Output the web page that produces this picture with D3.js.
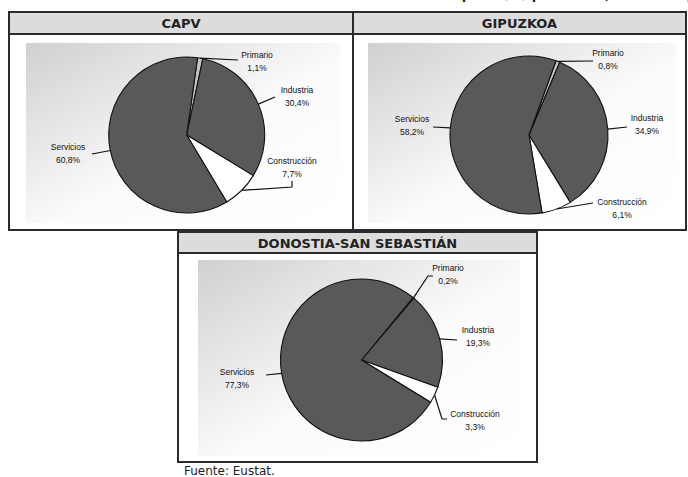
<!DOCTYPE html>
<html>
<head>
<meta charset="utf-8">
<script src="https://cdn.jsdelivr.net/npm/d3@7"></script>
<style>
  body { margin: 0; background: #fff; }
  svg { display: block; }
</style>
</head>
<body>
<script>
// Datos (% de ocupados por sector)
const sectores = ["Primario", "Industria", "Construcción", "Servicios"];
const territorios = ["CAPV", "GIPUZKOA", "DONOSTIA-SAN SEBASTIÁN"];
const capv = [1.1, 30.4, 7.7, 60.8];
const gipuzkoa = [0.8, 34.9, 6.1, 58.2];
const donostia = [0.2, 19.3, 3.3, 77.3];
const series = [capv, gipuzkoa, donostia];

const colores = d3.scaleOrdinal()
  .domain(sectores)
  .range(["#c4c4c4", "#595959", "#ffffff", "#595959"]);

// Cajas, tarta y etiquetas de cada gráfico
const paneles = [
  { x: 9, y: 12, w: 344, h: 218, hh: 22, plot: [26, 43, 314, 180], cx: 186.7, cy: 135, r: 78, start: 8,
    labels: [
      { x: 257, y: 58, pts: [[238, 60]] },
      { x: 297, y: 93, pts: [[275, 97]] },
      { x: 292, y: 164, pts: [[292, 187], [292, 181]] },
      { x: 68, y: 150, pts: [[92, 154]] }
    ] },
  { x: 353, y: 12, w: 333, h: 218, hh: 22, plot: [368, 43, 308, 180], cx: 529, cy: 135, r: 79, start: 20,
    labels: [
      { x: 608, y: 56, pts: [[593, 61]] },
      { x: 647, y: 121, pts: [[627, 127]] },
      { x: 622, y: 205, pts: [[593, 203]] },
      { x: 412, y: 122, pts: [[433, 127]] }
    ] },
  { x: 178, y: 232, w: 359, h: 230, hh: 21, plot: [198, 260, 322, 196], cx: 361.5, cy: 360, r: 81, start: 39.5,
    labels: [
      { x: 448, y: 271, pts: [[428, 276], [433, 276]] },
      { x: 478, y: 333, pts: [[457, 340]] },
      { x: 475, y: 417, pts: [[442, 419], [447, 419]] },
      { x: 237, y: 375, pts: [[266, 375]] }
    ] }
];

const svg = d3.select("body").append("svg")
  .attr("width", 688)
  .attr("height", 477);

const defs = svg.append("defs");
const grad = defs.append("linearGradient")
  .attr("id", "fondo")
  .attr("x1", 0).attr("y1", 0)
  .attr("x2", 1).attr("y2", 1);
grad.append("stop").attr("offset", 0).attr("stop-color", "#d0d0d0");
grad.append("stop").attr("offset", 0.55).attr("stop-color", "#fbfbfb");
grad.append("stop").attr("offset", 1).attr("stop-color", "#ffffff");

// titulo cortado en la parte de arriba (solo asoman los rasgos inferiores)
svg.append("text")
  .attr("x", 546).attr("y", -1)
  .attr("text-anchor", "middle")
  .style("font-family", "DejaVu Sans")
  .style("font-weight", "bold")
  .style("font-size", "13px")
  .attr("fill", "#222")
  .text("Población ocupada (%) por sector, territorio y año)");

const fmt = v => d3.format(".1f")(v).replace(".", ",") + "%";

paneles.forEach((p, i) => {
  const g = svg.append("g");
  const valores = series[i];

  // caja
  g.append("rect")
    .attr("x", p.x).attr("y", p.y)
    .attr("width", p.w).attr("height", p.h)
    .attr("fill", "#fff")
    .attr("stroke", "#2b2b2b")
    .attr("stroke-width", 2);
  g.append("rect")
    .attr("x", p.x).attr("y", p.y)
    .attr("width", p.w).attr("height", p.hh)
    .attr("fill", "#dcdcdc")
    .attr("stroke", "#2b2b2b")
    .attr("stroke-width", 2);
  g.append("text")
    .attr("x", p.x + p.w / 2)
    .attr("y", p.y + p.hh / 2 + 5)
    .attr("text-anchor", "middle")
    .style("font-family", "DejaVu Sans")
    .style("font-weight", "bold")
    .style("font-size", "13px")
    .attr("fill", "#222")
    .text(territorios[i]);

  // area del grafico
  g.append("rect")
    .attr("x", p.plot[0]).attr("y", p.plot[1])
    .attr("width", p.plot[2]).attr("height", p.plot[3])
    .attr("fill", "url(#fondo)");

  const a0 = p.start * Math.PI / 180;
  const pie = d3.pie().sort(null).value(d => d.v)
    .startAngle(a0).endAngle(a0 + 2 * Math.PI);
  const arcs = pie(sectores.map((s, j) => ({ s: s, v: valores[j] })));
  const arc = d3.arc().innerRadius(0).outerRadius(p.r);

  const tarta = g.append("g").attr("transform", "translate(" + p.cx + "," + p.cy + ")");
  tarta.selectAll("path")
    .data(arcs)
    .enter()
    .append("path")
      .attr("d", arc)
      .attr("fill", d => colores(d.data.s))
      .attr("stroke", "#111")
      .attr("stroke-width", 1.1)
      .attr("stroke-linejoin", "round");

  // lineas guia y etiquetas
  arcs.forEach((d, j) => {
    const m = (d.startAngle + d.endAngle) / 2;
    const borde = [p.cx + Math.sin(m) * p.r, p.cy - Math.cos(m) * p.r];
    const lab = p.labels[j];
    g.append("path")
      .attr("d", d3.line()([borde].concat(lab.pts)))
      .attr("fill", "none")
      .attr("stroke", "#111")
      .attr("stroke-width", 1.2);
    const t = g.append("text")
      .attr("text-anchor", "middle")
      .style("font-family", "Liberation Sans")
      .style("font-size", "8.5px")
      .attr("fill", "#111");
    t.append("tspan").attr("x", lab.x).attr("y", lab.y).text(d.data.s);
    t.append("tspan").attr("x", lab.x).attr("y", lab.y + 13).text(fmt(d.data.v));
  });
});

svg.append("text")
  .attr("x", 184).attr("y", 475)
  .style("font-family", "DejaVu Sans")
  .style("font-size", "12px")
  .attr("fill", "#222")
  .text("Fuente: Eustat.");
</script>
</body>
</html>
